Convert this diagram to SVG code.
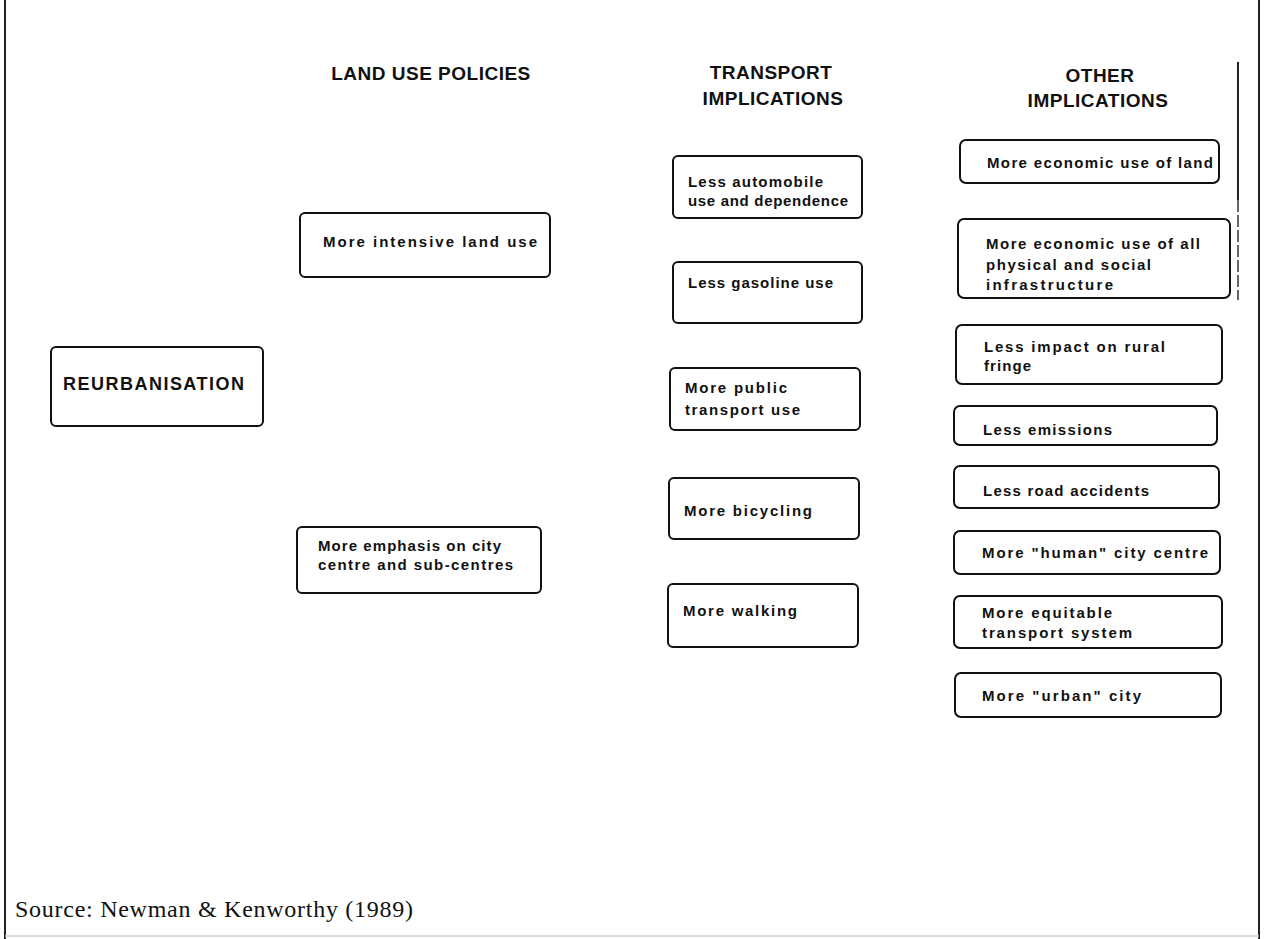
<svg xmlns="http://www.w3.org/2000/svg" width="1266" height="939" viewBox="0 0 1266 939">
<style>
.box{fill:#fff;stroke:#111;stroke-width:2}
.hd{font-family:"Liberation Sans",Arial,sans-serif;font-weight:bold;font-size:19px;fill:#111;text-anchor:middle;letter-spacing:0.5px}
.t{font-family:"Liberation Sans",Arial,sans-serif;font-weight:bold;font-size:15px;fill:#111}
.big{font-family:"Liberation Sans",Arial,sans-serif;font-weight:bold;font-size:18px;fill:#111;letter-spacing:1px}
.src{font-family:"Liberation Serif","Times New Roman",serif;font-size:24px;fill:#111}
.frame{stroke:#222;stroke-width:2;fill:none}
</style>
<rect width="1266" height="939" fill="#fff"/>
<g id="frame">
<line class="frame" x1="5" y1="0" x2="5" y2="939"/>
<line class="frame" x1="1259" y1="0" x2="1259" y2="939"/>
<line x1="5" y1="936" x2="1259" y2="936" stroke="#ccc" stroke-width="1.5"/>
<line x1="1238" y1="62" x2="1238" y2="200" stroke="#222" stroke-width="2"/>
<line x1="1238" y1="200" x2="1238" y2="300" stroke="#333" stroke-width="1.5" stroke-dasharray="12 3"/>
</g>
<g id="headings">
<text class="hd" x="431" y="80">LAND USE POLICIES</text>
<text class="hd" x="771" y="79">TRANSPORT</text>
<text class="hd" x="773" y="105">IMPLICATIONS</text>
<text class="hd" x="1100" y="82">OTHER</text>
<text class="hd" x="1098" y="107">IMPLICATIONS</text>
</g>
<g id="connectors"></g>
<g id="reurbanisation">
<rect class="box" x="51" y="347" width="212" height="79" rx="5"/>
<text class="big" x="63" y="390" textLength="182" lengthAdjust="spacing">REURBANISATION</text>
</g>
<g id="land-intensive">
<rect class="box" x="300" y="213" width="250" height="64" rx="5"/>
<text class="t" x="323" y="247" textLength="214" lengthAdjust="spacing">More intensive land use</text>
</g>
<g id="land-centres">
<rect class="box" x="297" y="527" width="244" height="66" rx="5"/>
<text class="t" x="318" y="551" textLength="183" lengthAdjust="spacing">More emphasis on city</text>
<text class="t" x="318" y="570" textLength="195" lengthAdjust="spacing">centre and sub-centres</text>
</g>
<g id="tr-automobile">
<rect class="box" x="673" y="156" width="189" height="62" rx="5"/>
<text class="t" x="688" y="187" textLength="135" lengthAdjust="spacing">Less automobile</text>
<text class="t" x="688" y="206" textLength="160" lengthAdjust="spacing">use and dependence</text>
</g>
<g id="tr-gasoline">
<rect class="box" x="673" y="262" width="189" height="61" rx="5"/>
<text class="t" x="688" y="288" textLength="145" lengthAdjust="spacing">Less gasoline use</text>
</g>
<g id="tr-public">
<rect class="box" x="670" y="368" width="190" height="62" rx="5"/>
<text class="t" x="685" y="393" textLength="102" lengthAdjust="spacing">More public</text>
<text class="t" x="685" y="415" textLength="115" lengthAdjust="spacing">transport use</text>
</g>
<g id="tr-bicycling">
<rect class="box" x="669" y="478" width="190" height="61" rx="5"/>
<text class="t" x="684" y="516" textLength="128" lengthAdjust="spacing">More bicycling</text>
</g>
<g id="tr-walking">
<rect class="box" x="668" y="584" width="190" height="63" rx="5"/>
<text class="t" x="683" y="616" textLength="114" lengthAdjust="spacing">More walking</text>
</g>
<g id="ot-land">
<rect class="box" x="960" y="140" width="259" height="43" rx="6"/>
<text class="t" x="987" y="168" textLength="226" lengthAdjust="spacing">More economic use of land</text>
</g>
<g id="ot-infra">
<rect class="box" x="958" y="219" width="272" height="79" rx="6"/>
<text class="t" x="986" y="249" textLength="214" lengthAdjust="spacing">More economic use of all</text>
<text class="t" x="986" y="270" textLength="165" lengthAdjust="spacing">physical and social</text>
<text class="t" x="986" y="290" textLength="127" lengthAdjust="spacing">infrastructure</text>
</g>
<g id="ot-rural">
<rect class="box" x="956" y="325" width="266" height="59" rx="6"/>
<text class="t" x="984" y="352" textLength="181" lengthAdjust="spacing">Less impact on rural</text>
<text class="t" x="984" y="371" textLength="47" lengthAdjust="spacing">fringe</text>
</g>
<g id="ot-emissions">
<rect class="box" x="954" y="406" width="263" height="39" rx="6"/>
<text class="t" x="983" y="435" textLength="129" lengthAdjust="spacing">Less emissions</text>
</g>
<g id="ot-accidents">
<rect class="box" x="954" y="466" width="265" height="42" rx="6"/>
<text class="t" x="983" y="496" textLength="166" lengthAdjust="spacing">Less road accidents</text>
</g>
<g id="ot-human">
<rect class="box" x="954" y="531" width="266" height="43" rx="6"/>
<text class="t" x="982" y="558" textLength="226" lengthAdjust="spacing">More "human" city centre</text>
</g>
<g id="ot-equitable">
<rect class="box" x="954" y="596" width="268" height="52" rx="6"/>
<text class="t" x="982" y="618" textLength="130" lengthAdjust="spacing">More equitable</text>
<text class="t" x="982" y="638" textLength="150" lengthAdjust="spacing">transport system</text>
</g>
<g id="ot-urban">
<rect class="box" x="955" y="673" width="266" height="44" rx="6"/>
<text class="t" x="982" y="701" textLength="159" lengthAdjust="spacing">More "urban" city</text>
</g>
<g id="source">
<text class="src" x="15" y="917" textLength="398" lengthAdjust="spacing">Source: Newman &amp; Kenworthy (1989)</text>
</g>
</svg>
